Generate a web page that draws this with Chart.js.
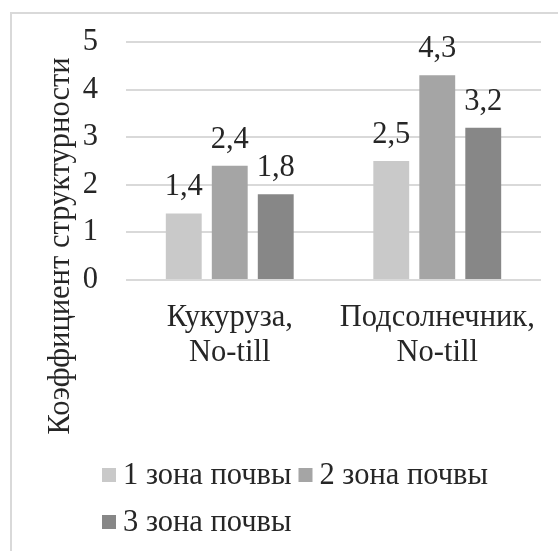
<!DOCTYPE html>
<html>
<head>
<meta charset="utf-8">
<script src="https://cdn.jsdelivr.net/npm/chart.js@4/dist/chart.umd.min.js"></script>
<style>
  html, body { margin: 0; padding: 0; background: #ffffff; overflow: hidden; }
  canvas { display: block; }
</style>
</head>
<body>
<canvas id="chart" width="558" height="551"></canvas>
<script>
// Categories (two-line labels) and values per soil zone
const categories = [['Кукуруза,', 'No-till'], ['Подсолнечник,', 'No-till']];
const seriesNames = ['1 зона почвы', '2 зона почвы', '3 зона почвы'];
const zone1 = [1.4, 2.5];
const zone2 = [2.4, 4.3];
const zone3 = [1.8, 3.2];
const yTicks = [0, 1, 2, 3, 4, 5];
const yTitle = 'Коэффициент структурности';

const colors = ['#c9c9c9', '#a5a5a5', '#878787'];
const FONT = 'Liberation Serif';
const FONT_SIZE = 30.5;
const TEXT = '#262626';
Chart.defaults.font.family = FONT;

const fmt = v => v.toFixed(1).replace('.', ',');

// Light frame along the top and left edges
const frame = {
  id: 'frame',
  beforeDraw(chart) {
    const ctx = chart.ctx;
    ctx.save();
    ctx.fillStyle = '#ffffff';
    ctx.fillRect(0, 0, chart.width, chart.height);
    ctx.strokeStyle = '#d9d9d9';
    ctx.lineWidth = 2;
    ctx.beginPath();
    ctx.moveTo(11, chart.height);
    ctx.lineTo(11, 13);
    ctx.lineTo(chart.width, 13);
    ctx.stroke();
    ctx.restore();
  }
};

// Value labels above each bar
const valueLabels = {
  id: 'valueLabels',
  afterDatasetsDraw(chart) {
    const ctx = chart.ctx;
    ctx.save();
    ctx.font = FONT_SIZE + 'px ' + FONT;
    ctx.fillStyle = TEXT;
    ctx.textAlign = 'center';
    ctx.textBaseline = 'alphabetic';
    chart.data.datasets.forEach((ds, i) => {
      chart.getDatasetMeta(i).data.forEach((bar, j) => {
        ctx.fillText(fmt(ds.data[j]), bar.x, bar.y - 18);
      });
    });
    ctx.restore();
  }
};

// Rotated axis title centred on the whole chart height
const axisTitle = {
  id: 'axisTitle',
  afterDraw(chart, args, opts) {
    const ctx = chart.ctx;
    ctx.save();
    ctx.font = FONT_SIZE + 'px ' + FONT;
    ctx.fillStyle = TEXT;
    ctx.textAlign = 'center';
    ctx.textBaseline = 'middle';
    ctx.translate(opts.x, opts.y);
    ctx.rotate(-Math.PI / 2);
    ctx.fillText(opts.text, 0, 0);
    ctx.restore();
  }
};

// Left-aligned legend that wraps onto a second row
const wrapLegend = {
  id: 'wrapLegend',
  afterDraw(chart, args, opts) {
    const ctx = chart.ctx;
    ctx.save();
    ctx.font = FONT_SIZE + 'px ' + FONT;
    ctx.textBaseline = 'middle';
    ctx.textAlign = 'left';
    let x = opts.left, row = 0;
    chart.data.datasets.forEach(ds => {
      const w = ctx.measureText(ds.label).width;
      const itemW = opts.box + opts.gap + w;
      if (x > opts.left && x + itemW > opts.right) { x = opts.left; row++; }
      const cy = opts.top + row * opts.rowHeight;
      ctx.fillStyle = ds.backgroundColor;
      ctx.fillRect(x, cy - opts.box / 2, opts.box, opts.box);
      ctx.fillStyle = TEXT;
      ctx.fillText(ds.label, x + opts.box + opts.gap, cy + 1);
      x += itemW + opts.spacing;
    });
    ctx.restore();
  }
};

const datasets = [zone1, zone2, zone3].map((d, i) => ({
  label: seriesNames[i],
  data: d,
  backgroundColor: colors[i],
  borderWidth: 0,
  categoryPercentage: 0.665,
  barPercentage: 0.78
}));

new Chart(document.getElementById('chart'), {
  type: 'bar',
  data: { labels: categories, datasets },
  plugins: [frame, valueLabels, axisTitle, wrapLegend],
  options: {
    responsive: false,
    animation: false,
    devicePixelRatio: 1,
    layout: { padding: { left: 54.75, right: 17, top: 42, bottom: 159.9 } },
    plugins: {
      legend: { display: false },
      tooltip: { enabled: false },
      axisTitle: { text: yTitle, x: 61, y: 246 },
      wrapLegend: { left: 102, right: 545, top: 475, rowHeight: 47, box: 14, gap: 7, spacing: 7 }
    },
    scales: {
      x: {
        grid: { display: false, drawTicks: false },
        border: { display: false },
        afterFit(scale) { scale.paddingLeft = 0; scale.paddingRight = 0; },
        ticks: {
          color: TEXT, padding: 20.45,
          font: { family: FONT, size: FONT_SIZE, lineHeight: 1.15 },
          maxRotation: 0, minRotation: 0, autoSkip: false
        }
      },
      y: {
        min: yTicks[0], max: yTicks[yTicks.length - 1],
        afterBuildTicks(scale) { scale.ticks = yTicks.map(v => ({ value: v })); },
        afterFit(scale) { scale.paddingTop = 0; scale.paddingBottom = 0; },
        grid: { color: '#d9d9d9', lineWidth: 2, drawTicks: false },
        border: { display: false },
        ticks: {
          color: TEXT, padding: 28,
          font: { family: FONT, size: FONT_SIZE },
          callback: v => String(v)
        }
      }
    }
  }
});
</script>
</body>
</html>
